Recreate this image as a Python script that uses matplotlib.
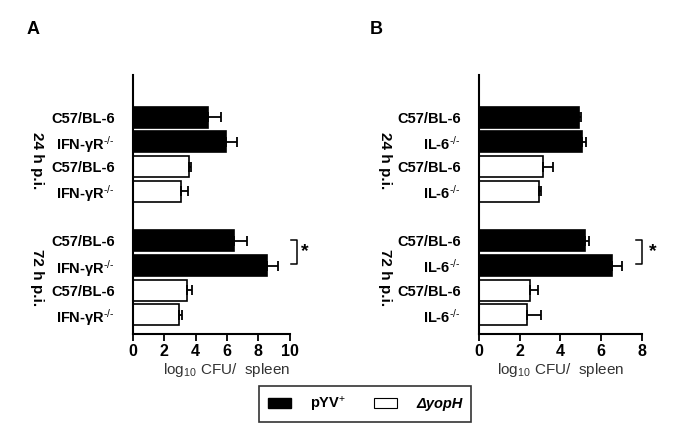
import numpy as np
import matplotlib
matplotlib.use("Agg")
import matplotlib.pyplot as plt
from matplotlib.patches import Patch
from matplotlib.transforms import blended_transform_factory

plt.rcParams['font.family'] = ['Liberation Sans', 'DejaVu Sans']
plt.rcParams['mathtext.fontset'] = 'custom'
plt.rcParams['mathtext.rm'] = 'Liberation Sans'
plt.rcParams['mathtext.it'] = 'Liberation Sans:italic'
plt.rcParams['mathtext.bf'] = 'Liberation Sans:bold'

# Data (log10 CFU / spleen), order per panel: 24h pYV+ WT, KO, dyopH WT, KO; 72h same
labels_a = ["C57/BL-6", "IFN-γR$^{\\text{-/-}}$", "C57/BL-6", "IFN-γR$^{\\text{-/-}}$"] * 2
labels_b = ["C57/BL-6", "IL-6$^{\\text{-/-}}$", "C57/BL-6", "IL-6$^{\\text{-/-}}$"] * 2
means_a = [4.8, 5.96, 3.59, 3.08, 6.45, 8.56, 3.48, 2.95]
errs_a = [0.83, 0.66, 0.10, 0.44, 0.82, 0.68, 0.32, 0.17]
means_b = [4.92, 5.06, 3.15, 2.96, 5.2, 6.53, 2.53, 2.34]
errs_b = [0.11, 0.18, 0.46, 0.09, 0.21, 0.49, 0.38, 0.70]
strains = ["pYV$^{+}$", "ΔyopH"]
groups = ["24 h p.i.", "72 h p.i."]

pos = np.array([0, 1, 2, 3, 5, 6, 7, 8])
colors = ["black", "black", "white", "white"] * 2

fig = plt.figure(figsize=(6.85, 4.47), dpi=100)
ax_a = fig.add_axes([0.194, 0.2528, 0.229, 0.579])
ax_b = fig.add_axes([0.699, 0.2528, 0.2384, 0.579])


def draw_panel(ax, means, errs, labels, xmax, grp_x, brk_x, star_x):
    ax.barh(pos, means, height=0.85, color=colors, edgecolor="black", linewidth=1.2)
    ax.errorbar(means, pos, xerr=[np.zeros(len(errs)), errs], fmt="none",
                ecolor="black", elinewidth=1.3, capsize=3.5, capthick=1.3)
    ax.set_ylim(8.77, -1.7)
    ax.set_xlim(0, xmax)
    ax.set_xticks(np.arange(0, xmax + 1, 2))
    ax.set_yticks(pos)
    ax.set_yticklabels(labels, fontweight="bold", fontsize=10.5)
    for t in ax.get_xticklabels():
        t.set_fontweight("bold")
        t.set_fontsize(11.5)
    ax.tick_params(axis="y", length=0, pad=13)
    ax.tick_params(axis="x", length=5, width=1.3, direction="out", pad=2)
    for s in ["top", "right"]:
        ax.spines[s].set_visible(False)
    for s in ["left", "bottom"]:
        ax.spines[s].set_linewidth(1.5)
    ax.set_xlabel("log$_{10}$ CFU/  spleen", fontsize=11, color="#333333")
    trans = blended_transform_factory(ax.transAxes, ax.transData)
    for g, yc in zip(groups, [1.75, 6.5]):
        ax.text(grp_x, yc, g, transform=trans, rotation=-90, ha="center", va="center",
                fontweight="bold", fontsize=11)
    # significance bracket
    ax.plot([brk_x[0], brk_x[1], brk_x[1], brk_x[0]], [4.95, 4.95, 5.95, 5.95],
            color="black", lw=1.1, clip_on=False)
    ax.text(star_x, 5.45, "*", fontsize=14, fontweight="bold", ha="center", va="center")


draw_panel(ax_a, means_a, errs_a, labels_a, 10, -0.611, (10.1, 10.45), 10.95)
draw_panel(ax_b, means_b, errs_b, labels_b, 8, -0.576, (7.7, 7.98), 8.53)
ax_a.xaxis.set_label_coords(0.6, -0.105)
ax_b.xaxis.set_label_coords(0.5, -0.105)

fig.text(33 / 685, 1 - 29 / 447, "A", fontsize=13, fontweight="bold", ha="center", va="center")
fig.text(376 / 685, 1 - 29 / 447, "B", fontsize=13, fontweight="bold", ha="center", va="center")

handles = [Patch(facecolor="black", edgecolor="black"),
           Patch(facecolor="white", edgecolor="black", linewidth=0.8)]
leg = fig.legend(handles, strains, ncol=2, loc="center",
                 bbox_to_anchor=(365 / 685, 1 - 404 / 447), frameon=True,
                 fancybox=False, edgecolor="black", handlelength=1.6, handleheight=0.65,
                 columnspacing=1.9, handletextpad=1.3, borderpad=0.6,
                 prop={"weight": "bold", "size": 10.5})
leg.get_frame().set_linewidth(1.2)
leg.get_texts()[1].set_fontstyle("italic")

fig.savefig("out.png", dpi=100)
